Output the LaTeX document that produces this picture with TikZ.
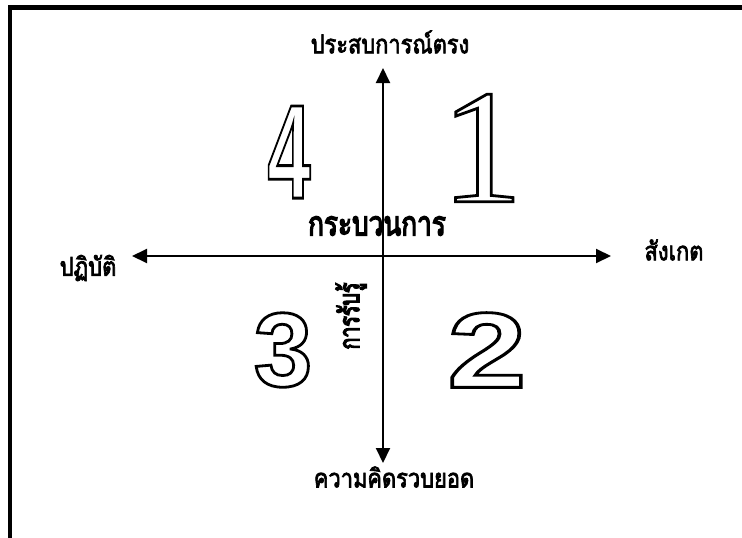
\documentclass[tikz,border=0pt]{standalone}
\usepackage{fontspec}
\usetikzlibrary{arrows.meta}
\newfontfamily\thaifont[Script=Thai,FakeBold=3]{Loma}
\newfontfamily\thaiheavy[Script=Thai,FakeBold=4.5]{Loma}
\newfontfamily\thaiheavyr[Script=Thai,FakeBold=5.5]{Loma}
\newfontfamily\serifdig{Liberation Serif}
\newfontfamily\sansdig{Liberation Sans Bold}
\newcommand{\outlined}[1]{\special{pdf:literal direct 1 Tr 2.8 w}#1\special{pdf:literal direct 0 Tr}}
\newcommand{\lbltext}[1]{\scalebox{0.84}[1]{\thaifont\fontsize{26}{30}\selectfont #1}}
\tikzset{
  lbl/.style={inner sep=0pt},
  heavy/.style={inner sep=0pt},
  digit/.style={inner sep=0pt},
  axis/.style={line width=2pt, -{Triangle[length=15pt,width=14pt]}},
  frame/.style={line width=4.5pt}
}
\begin{document}
\begin{tikzpicture}[x=1pt,y=-1pt]
\useasboundingbox (0,0) rectangle (742,538);
\draw[frame] (8,7.5) -- (742,7.5);
\draw[frame] (10,5.5) -- (10,538);
\node[lbl] (top) at (390,42) {\lbltext{ประสบการณ์ตรง}};
\node[lbl] (bottom) at (394,477) {\lbltext{ความคิดรวบยอด}};
\node[lbl] (left) at (88,268) {\lbltext{ปฏิบัติ}};
\node[lbl] (right) at (674,250) {\lbltext{สังเกต}};
\coordinate (c) at (383,256);
\coordinate (vt) at (383,68);
\coordinate (vb) at (383,463);
\coordinate (hl) at (132,256);
\coordinate (hr) at (611,256);
\draw[axis] (c) -- (vt);
\draw[axis] (c) -- (vb);
\draw[axis] (c) -- (hl);
\draw[axis] (c) -- (hr);
\node[heavy] (proc) at (377,226) {\scalebox{0.77}[1]{\thaiheavy\fontsize{34}{38}\selectfont กระบวนการ}};
\node[heavy] (perc) at (351,316) {\rotatebox{90}{\scalebox{0.7}[1]{\thaiheavyr\fontsize{28}{32}\selectfont การรับรู้}}};
\node[digit] (d1) at (482,148) {\serifdig\fontsize{163}{163}\selectfont\outlined{1}};
\node[digit] (d4) at (289,152) {\scalebox{0.58}[1]{\sansdig\fontsize{134}{134}\selectfont\outlined{4}}};
\node[digit] (d3) at (283,350) {\scalebox{1.0}[1]{\sansdig\fontsize{105}{105}\selectfont\outlined{3}}};
\node[digit] (d2) at (487,350) {\scalebox{1.33}[1]{\sansdig\fontsize{107}{107}\selectfont\outlined{2}}};
\end{tikzpicture}
\end{document}
